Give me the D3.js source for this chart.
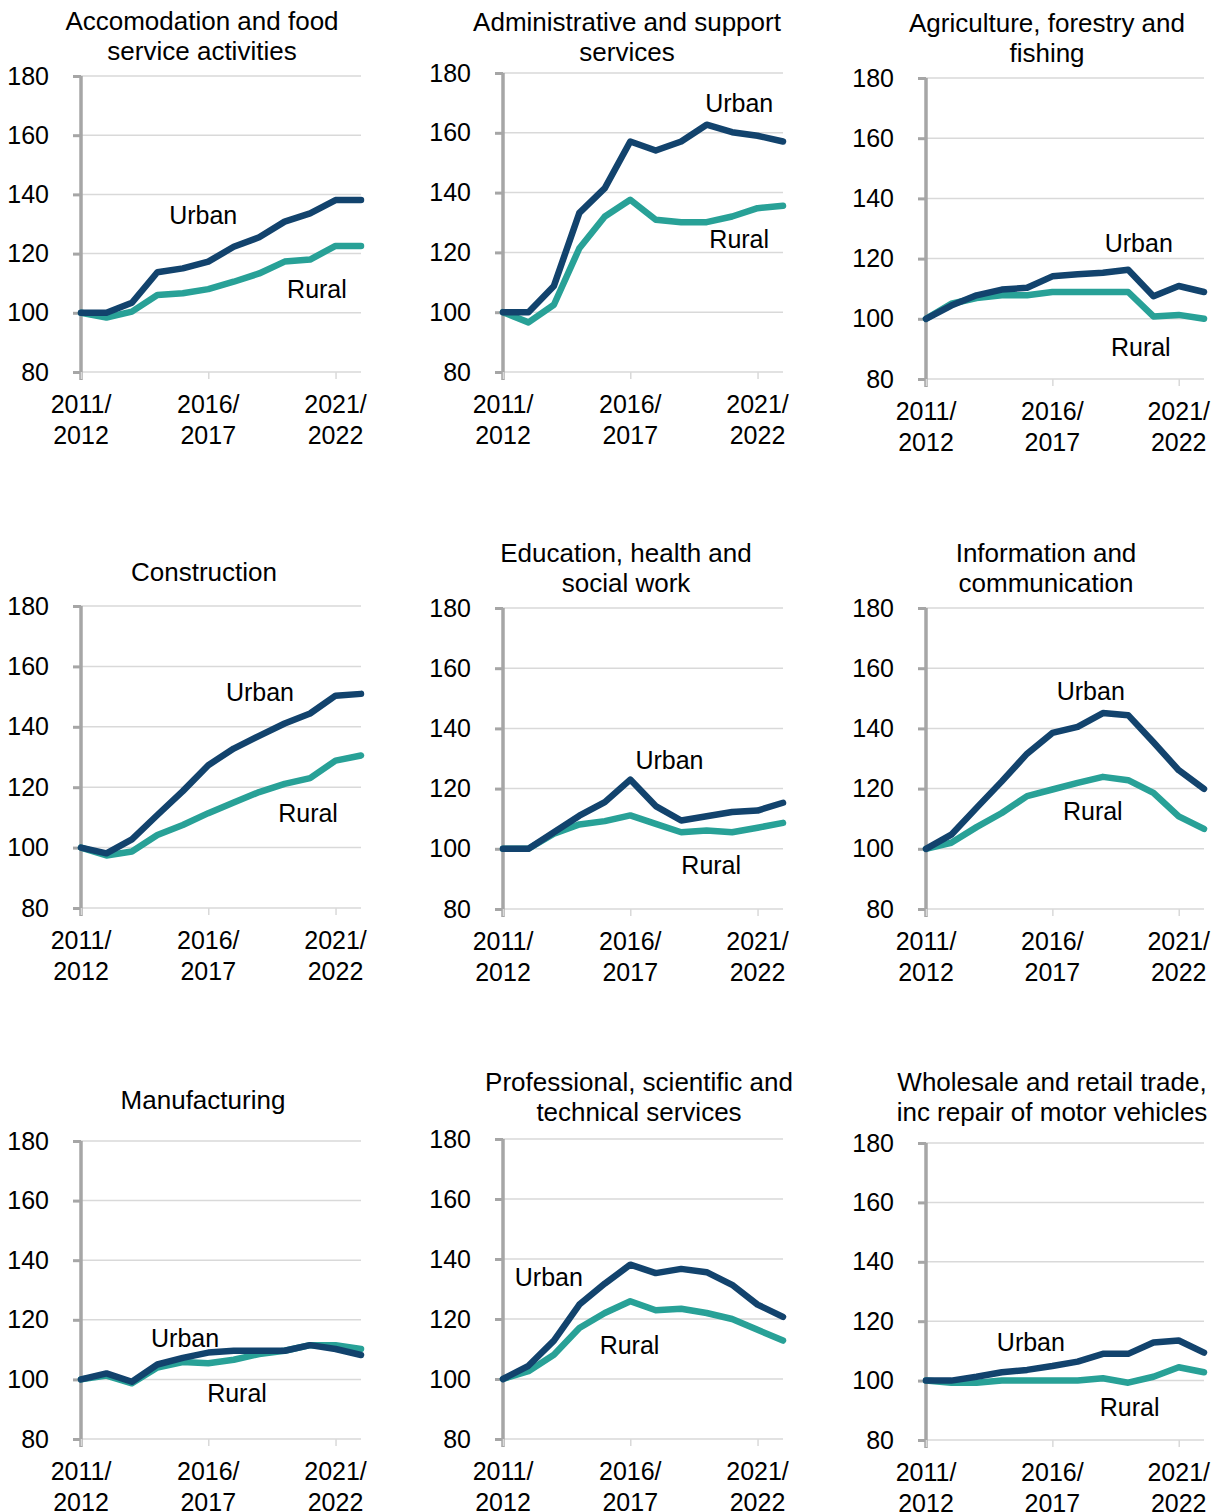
<!DOCTYPE html>
<html>
<head>
<meta charset="utf-8">
<script src="https://cdn.jsdelivr.net/npm/d3@7"></script>
<style>
  body { margin: 0; background: #fff; }
  svg { font-family: "Liberation Sans", Arial, sans-serif; }
</style>
</head>
<body>
<div id="chart"></div>
<script>
// years 2011/2012 .. 2022/2023, index 100 = 2011/2012
var years = ["2011/2012","2012/2013","2013/2014","2014/2015","2015/2016","2016/2017",
             "2017/2018","2018/2019","2019/2020","2020/2021","2021/2022","2022/2023"];
var tickIdx = [0, 5, 10];
var yTicks = [80, 100, 120, 140, 160, 180];

var sectors = [
  ["Accomodation and food", "service activities"],
  ["Administrative and support", "services"],
  ["Agriculture, forestry and", "fishing"],
  ["Construction"],
  ["Education, health and", "social work"],
  ["Information and", "communication"],
  ["Manufacturing"],
  ["Professional, scientific and", "technical services"],
  ["Wholesale and retail trade,", "inc repair of motor vehicles"]
];

var urban = [
  [100, 100, 103.4, 113.7, 115, 117.3, 122.3, 125.5, 130.8, 133.6, 138.1, 138.1],
  [100, 100, 108.8, 133.2, 141.5, 157.1, 154.1, 157.1, 162.7, 160.2, 159, 157.1],
  [100, 104.4, 107.8, 109.7, 110.3, 114.1, 114.8, 115.3, 116.3, 107.5, 110.9, 108.9],
  [100, 98.1, 102.7, 110.8, 118.7, 127.3, 132.8, 137, 141.1, 144.4, 150.3, 150.9],
  [100, 100, 105.5, 111, 115.5, 123, 114.2, 109.4, 110.8, 112.2, 112.7, 115.3],
  [100, 104.7, 113.6, 122.4, 131.6, 138.5, 140.5, 145.1, 144.4, 135.4, 126.1, 119.9],
  [100, 102, 99.2, 105, 107.2, 109, 109.6, 109.6, 109.6, 111.5, 110.2, 108.2],
  [100, 104.4, 112.8, 124.8, 131.8, 138.1, 135.3, 136.7, 135.6, 131.4, 124.8, 120.7],
  [100, 100, 101.3, 102.8, 103.6, 104.9, 106.4, 109, 109, 112.8, 113.5, 109.4]
];

var rural = [
  [100, 98.4, 100.4, 106, 106.6, 108, 110.5, 113.3, 117.3, 118, 122.6, 122.6],
  [100, 96.6, 102.5, 121.4, 132, 137.6, 130.9, 130.1, 130.1, 132, 134.8, 135.6],
  [100, 105, 106.9, 107.8, 107.8, 108.9, 108.9, 108.9, 108.9, 100.8, 101.3, 100],
  [100, 97.4, 98.7, 104.2, 107.5, 111.4, 114.9, 118.4, 121.1, 123, 128.8, 130.5],
  [100, 100, 105, 108.1, 109.2, 111.1, 108.3, 105.5, 106.1, 105.5, 107, 108.6],
  [100, 102, 107.2, 111.9, 117.5, 119.7, 121.9, 123.9, 122.8, 118.6, 110.8, 106.6],
  [100, 101.3, 98.7, 104, 105.8, 105.4, 106.6, 108.5, 109.6, 111.5, 111.5, 110.2],
  [100, 102.6, 108.1, 117, 122, 125.9, 122.9, 123.4, 122, 120, 116.4, 112.8],
  [100, 99.3, 99.3, 100, 100, 100, 100, 100.8, 99.3, 101.3, 104.5, 102.8]
];

// where the "Urban" / "Rural" labels sit, in data units [year index, value]
var urbanLabelAt = [[4.8,133],[9.28,170],[8.42,125.2],[7.03,151.5],[6.54,129.5],[6.52,152.4],[4.09,113.9],[1.8,134],[4.15,113]];
var ruralLabelAt = [[9.27,108],[9.28,124.5],[8.5,90.6],[8.92,111.5],[8.18,94.6],[6.6,112.6],[6.13,95.4],[4.97,111.3],[8.06,91.1]];

// panel boxes: plot left/right/top/bottom and title anchor
var panels = [
  {l: 81,  r: 361,  t: 76,   b: 372,  tx: 202,  ty: 30},
  {l: 503, r: 783,  t: 73,   b: 372,  tx: 627,  ty: 31},
  {l: 926, r: 1204, t: 78,   b: 379,  tx: 1047, ty: 32},
  {l: 81,  r: 361,  t: 606,  b: 908,  tx: 204,  ty: 581},
  {l: 503, r: 783,  t: 608,  b: 909,  tx: 626,  ty: 562},
  {l: 926, r: 1204, t: 608,  b: 909,  tx: 1046, ty: 562},
  {l: 81,  r: 361,  t: 1141, b: 1439, tx: 203,  ty: 1109},
  {l: 503, r: 783,  t: 1139, b: 1439, tx: 639,  ty: 1091},
  {l: 926, r: 1204, t: 1143, b: 1440, tx: 1052, ty: 1091}
];

var urbanColor = "#12436d", ruralColor = "#28a197";
var axisGrey = "#a6a6a6", gridGrey = "#d9d9d9";

var svg = d3.select("#chart").append("svg")
    .attr("width", 1213).attr("height", 1512);

panels.forEach(function(p, k){
    var g = svg.append("g");
    var x = d3.scaleLinear().domain([0, years.length - 1]).range([p.l, p.r]);
    var y = d3.scaleLinear().domain([80, 180]).range([p.b, p.t]);

    // gridlines
    g.selectAll(".grid").data(yTicks).enter().append("line")
        .attr("x1", p.l).attr("x2", p.r)
        .attr("y1", function(d){ return y(d); }).attr("y2", function(d){ return y(d); })
        .attr("stroke", gridGrey).attr("stroke-width", 1.5);

    // y axis
    var yAxis = g.append("g").attr("transform", "translate(" + p.l + ",0)")
        .call(d3.axisLeft(y).tickValues(yTicks).tickSize(8).tickPadding(24));
    yAxis.select(".domain").attr("stroke", axisGrey).attr("stroke-width", 3.5)
        .attr("d", "M0," + (y(80) + 8) + "V" + y(180));
    yAxis.selectAll(".tick line").attr("stroke", axisGrey).attr("stroke-width", 3);
    yAxis.selectAll(".tick text").attr("font-size", 25).attr("fill", "#000")
        .attr("font-family", "Liberation Sans, Arial, sans-serif");

    // x ticks + two-line labels
    var xAxis = g.append("g").attr("transform", "translate(0," + p.b + ")")
        .call(d3.axisBottom(x).tickValues(tickIdx).tickSize(7).tickFormat(""));
    xAxis.select(".domain").remove();
    xAxis.selectAll(".tick line").attr("stroke", gridGrey).attr("stroke-width", 1.5);
    var xl = g.selectAll(".xl").data(tickIdx).enter().append("text")
        .attr("text-anchor", "middle").attr("font-size", 25).attr("fill", "#000");
    xl.append("tspan").attr("x", function(d){ return x(d); }).attr("y", p.b + 41)
        .text(function(d){ return years[d].slice(0, 5); });
    xl.append("tspan").attr("x", function(d){ return x(d); }).attr("y", p.b + 72)
        .text(function(d){ return years[d].slice(5); });

    // lines
    var line = d3.line().x(function(d, i){ return x(i); }).y(function(d){ return y(d); });
    g.append("path").datum(rural[k]).attr("d", line)
        .attr("fill", "none").attr("stroke", ruralColor).attr("stroke-width", 6.5)
        .attr("stroke-linejoin", "round").attr("stroke-linecap", "round");
    g.append("path").datum(urban[k]).attr("d", line)
        .attr("fill", "none").attr("stroke", urbanColor).attr("stroke-width", 6.5)
        .attr("stroke-linejoin", "round").attr("stroke-linecap", "round");

    // series labels
    g.append("text").attr("x", x(urbanLabelAt[k][0])).attr("y", y(urbanLabelAt[k][1]))
        .attr("dy", "0.35em").attr("text-anchor", "middle").attr("font-size", 25)
        .text("Urban");
    g.append("text").attr("x", x(ruralLabelAt[k][0])).attr("y", y(ruralLabelAt[k][1]))
        .attr("dy", "0.35em").attr("text-anchor", "middle").attr("font-size", 25)
        .text("Rural");

    // title
    var title = g.append("text").attr("text-anchor", "middle").attr("font-size", 26);
    sectors[k].forEach(function(s, j){
        title.append("tspan").attr("x", p.tx).attr("y", p.ty + j * 30).text(s);
    });
});
</script>
</body>
</html>
